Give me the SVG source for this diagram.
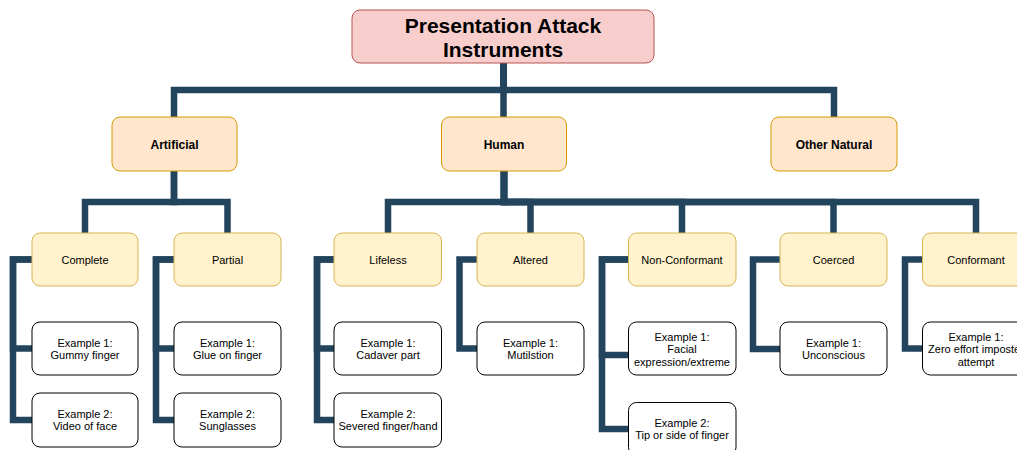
<svg xmlns="http://www.w3.org/2000/svg" width="1017" height="450" viewBox="0 0 1017 450">
  <style>
    text { font-family: "Liberation Sans", Arial, Helvetica, sans-serif; fill: #000; text-anchor: middle; }
    .edge { fill: none; stroke: #23445D; stroke-width: 6.5; stroke-linejoin: miter; stroke-linecap: butt; }
    .root { fill: #f8cecc; stroke: #b85450; stroke-width: 1; }
    .cat { fill: #ffe6cc; stroke: #d79b00; stroke-width: 1; }
    .sub { fill: #fff2cc; stroke: #d6b656; stroke-width: 1; }
    .ex { fill: #ffffff; stroke: #000000; stroke-width: 1; }
    .t-root { font-size: 21px; font-weight: bold; }
    .t-cat { font-size: 12px; font-weight: bold; }
    .t-sub { font-size: 11px; }
    .t-ex { font-size: 11px; }
  </style>

  <!-- tree connectors -->
  <g id="connectors">
    <path class="edge" d="M503.5 63 V90 H174 V117"/>
    <path class="edge" d="M503.5 63 V117"/>
    <path class="edge" d="M503.5 63 V90 H834 V117"/>

    <path class="edge" d="M174 171 V202 H85 V233"/>
    <path class="edge" d="M174 171 V202 H227.5 V233"/>

    <path class="edge" d="M504 171 V202 H388 V233"/>
    <path class="edge" d="M504 171 V202 H530.5 V233"/>
    <path class="edge" d="M504 171 V202 H682 V233"/>
    <path class="edge" d="M504 171 V202 H833.5 V233"/>
    <path class="edge" d="M504 171 V202 H976 V233"/>

    <path class="edge" d="M32 259.5 H13 V348.5 H32"/>
    <path class="edge" d="M32 259.5 H13 V420 H32"/>
    <path class="edge" d="M174 259.5 H156 V348.5 H174"/>
    <path class="edge" d="M174 259.5 H156 V420 H174"/>
    <path class="edge" d="M334 259.5 H317 V348.5 H334"/>
    <path class="edge" d="M334 259.5 H317 V420 H334"/>
    <path class="edge" d="M477 259.5 H459.5 V348.5 H477"/>
    <path class="edge" d="M628.5 259.5 H602 V355 H628.5"/>
    <path class="edge" d="M628.5 259.5 H602 V429 H628.5"/>
    <path class="edge" d="M780 259.5 H753 V349 H780"/>
    <path class="edge" d="M922.5 259.5 H905 V348.5 H922.5"/>
  </g>

  <!-- root -->
  <g id="pai">
    <rect class="root" x="352" y="10" width="302" height="53" rx="8"/>
    <text class="t-root" x="503" y="32.5">Presentation Attack</text>
    <text class="t-root" x="503" y="57">Instruments</text>
  </g>

  <!-- categories -->
  <g id="artificial">
    <rect class="cat" x="112" y="117" width="125" height="54" rx="8"/>
    <text class="t-cat" x="174.5" y="148.5">Artificial</text>
  </g>
  <g id="human">
    <rect class="cat" x="441.5" y="117" width="125" height="54" rx="8"/>
    <text class="t-cat" x="504" y="148.5">Human</text>
  </g>
  <g id="other-natural">
    <rect class="cat" x="771" y="117" width="126" height="54" rx="8"/>
    <text class="t-cat" x="834" y="148.5">Other Natural</text>
  </g>

  <!-- subcategories -->
  <g id="complete">
    <rect class="sub" x="32" y="233" width="106" height="53" rx="8"/>
    <text class="t-sub" x="85" y="263.5">Complete</text>
  </g>
  <g id="partial">
    <rect class="sub" x="174" y="233" width="107" height="53" rx="8"/>
    <text class="t-sub" x="227.5" y="263.5">Partial</text>
  </g>
  <g id="lifeless">
    <rect class="sub" x="334" y="233" width="107.5" height="53" rx="8"/>
    <text class="t-sub" x="388" y="263.5">Lifeless</text>
  </g>
  <g id="altered">
    <rect class="sub" x="477" y="233" width="107" height="53" rx="8"/>
    <text class="t-sub" x="530.5" y="263.5">Altered</text>
  </g>
  <g id="non-conformant">
    <rect class="sub" x="628.5" y="233" width="107.5" height="53" rx="8"/>
    <text class="t-sub" x="682" y="263.5">Non-Conformant</text>
  </g>
  <g id="coerced">
    <rect class="sub" x="780" y="233" width="107" height="53" rx="8"/>
    <text class="t-sub" x="833.5" y="263.5">Coerced</text>
  </g>
  <g id="conformant">
    <rect class="sub" x="922.5" y="233" width="107" height="53" rx="8"/>
    <text class="t-sub" x="976" y="263.5">Conformant</text>
  </g>

  <!-- examples -->
  <g id="complete-ex1">
    <rect class="ex" x="32" y="322" width="106" height="53" rx="8"/>
    <text class="t-ex" x="85" y="346.7">Example 1:</text>
    <text class="t-ex" x="85" y="358.5">Gummy finger</text>
  </g>
  <g id="complete-ex2">
    <rect class="ex" x="32" y="393" width="106" height="54" rx="8"/>
    <text class="t-ex" x="85" y="418">Example 2:</text>
    <text class="t-ex" x="85" y="430">Video of face</text>
  </g>
  <g id="partial-ex1">
    <rect class="ex" x="174" y="322" width="107" height="53" rx="8"/>
    <text class="t-ex" x="227.5" y="346.7">Example 1:</text>
    <text class="t-ex" x="227.5" y="358.5">Glue on finger</text>
  </g>
  <g id="partial-ex2">
    <rect class="ex" x="174" y="393" width="107" height="54" rx="8"/>
    <text class="t-ex" x="227.5" y="418">Example 2:</text>
    <text class="t-ex" x="227.5" y="430">Sunglasses</text>
  </g>
  <g id="lifeless-ex1">
    <rect class="ex" x="334" y="322" width="107.5" height="53" rx="8"/>
    <text class="t-ex" x="388" y="346.7">Example 1:</text>
    <text class="t-ex" x="388" y="358.5">Cadaver part</text>
  </g>
  <g id="lifeless-ex2">
    <rect class="ex" x="334" y="393" width="107.5" height="54" rx="8"/>
    <text class="t-ex" x="388" y="418">Example 2:</text>
    <text class="t-ex" x="388" y="430">Severed finger/hand</text>
  </g>
  <g id="altered-ex1">
    <rect class="ex" x="477" y="322" width="107" height="53" rx="8"/>
    <text class="t-ex" x="530.5" y="346.7">Example 1:</text>
    <text class="t-ex" x="530.5" y="358.5">Mutilstion</text>
  </g>
  <g id="non-conformant-ex1">
    <rect class="ex" x="628.5" y="322" width="107.5" height="53" rx="8"/>
    <text class="t-ex" x="682" y="341">Example 1:</text>
    <text class="t-ex" x="682" y="353.3">Facial</text>
    <text class="t-ex" x="682" y="366">expression/extreme</text>
  </g>
  <g id="non-conformant-ex2">
    <rect class="ex" x="628.5" y="402.5" width="107.5" height="53" rx="8"/>
    <text class="t-ex" x="682" y="426.5">Example 2:</text>
    <text class="t-ex" x="682" y="438.5">Tip or side of finger</text>
  </g>
  <g id="coerced-ex1">
    <rect class="ex" x="780" y="322" width="107" height="53" rx="8"/>
    <text class="t-ex" x="833.5" y="346.7">Example 1:</text>
    <text class="t-ex" x="833.5" y="358.5">Unconscious</text>
  </g>
  <g id="conformant-ex1">
    <rect class="ex" x="922.5" y="322" width="107" height="53" rx="8"/>
    <text class="t-ex" x="976" y="341">Example 1:</text>
    <text class="t-ex" x="976" y="353.3">Zero effort imposter</text>
    <text class="t-ex" x="976" y="366">attempt</text>
  </g>
</svg>
